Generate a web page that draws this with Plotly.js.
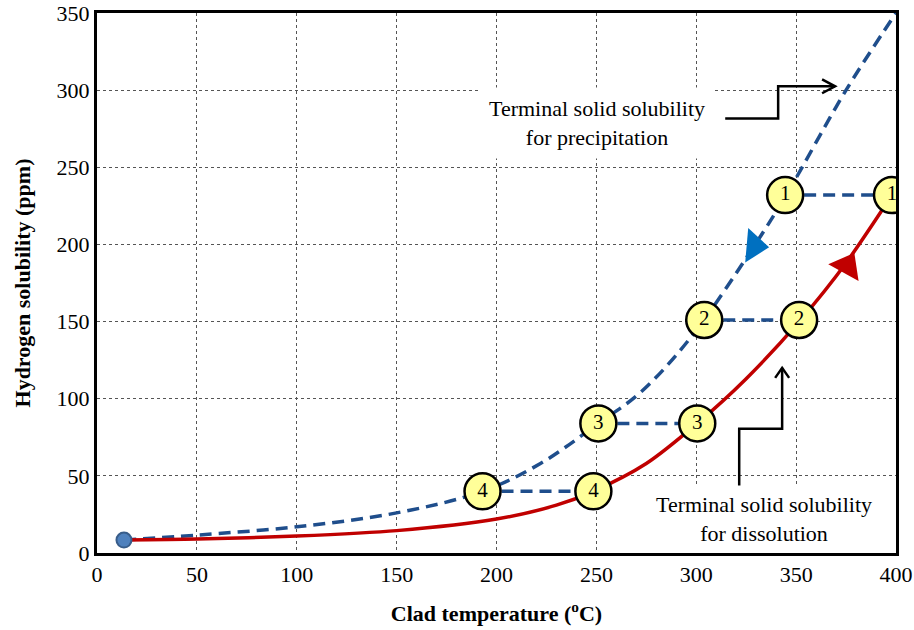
<!DOCTYPE html>
<html>
<head>
<meta charset="utf-8">
<script src="https://cdn.plot.ly/plotly-3.0.1.min.js"></script>
<style>html,body{margin:0;padding:0;background:#fff;}#chart{width:914px;height:630px;}</style>
</head>
<body>
<div id="chart"></div>
<script>
// Terminal solid solubility for precipitation (blue dashed)
const precipX = [13.5, 50, 100, 150, 193, 222, 251, 272, 296.5, 329, 345, 375, 400];
const precipY = [8.4, 11.6, 17, 26, 40, 58, 84, 104, 138.5, 199, 232, 300, 350];
// Terminal solid solubility for dissolution (red solid)
const dissolX = [13.5, 50, 100, 150, 200, 230, 248.5, 275, 300.5, 325, 351.5, 375, 398];
const dissolY = [8.4, 9, 11, 14.5, 22, 31, 40, 58, 84, 113, 150, 188, 232];
// numbered state points
const stateLabels = ["1", "2", "3", "4"];
const stateY = [232, 151, 84, 40];
const precipStateX = [344.5, 304, 251, 193];
const dissolStateX = [398, 351.5, 300.5, 248.5];
// start point
const startX = [13.5];
const startY = [8.4];
// direction arrows
const blueArrowX = [329], blueArrowY = [199];
const redArrowX = [375.5], redArrowY = [186];

const serif = "Liberation Serif";
const blue = "#1F4E8C";
const red = "#C00000";

const traces = [];
traces.push({x: precipX, y: precipY, mode: "lines", line: {color: blue, width: 3.5, dash: "12px,7px", shape: "spline", smoothing: 1}, hoverinfo: "skip"});
traces.push({x: dissolX, y: dissolY, mode: "lines", line: {color: red, width: 3.5, shape: "spline", smoothing: 0.8}, hoverinfo: "skip"});
// horizontal connectors
for (let i = 0; i < stateLabels.length; i++) {
  traces.push({x: [precipStateX[i], dissolStateX[i]], y: [stateY[i], stateY[i]], mode: "lines",
    line: {color: blue, width: 3.5, dash: "12px,7px"}, hoverinfo: "skip"});
}
traces.push({x: blueArrowX, y: blueArrowY, mode: "markers", marker: {symbol: "triangle-right", size: 30, color: "#0070C0", angle: 5, line: {width: 0}}, hoverinfo: "skip"});
traces.push({x: redArrowX, y: redArrowY, mode: "markers", marker: {symbol: "triangle-up", size: 30, color: red, angle: 29, line: {width: 0}}, hoverinfo: "skip"});
traces.push({x: startX, y: startY, mode: "markers", marker: {size: 15, color: "#4F81BD", line: {color: "#385D8A", width: 2}}, hoverinfo: "skip"});
traces.push({x: precipStateX.concat(dissolStateX), y: stateY.concat(stateY), text: stateLabels.concat(stateLabels),
  mode: "markers+text", textposition: "middle center", textfont: {family: serif, size: 21, color: "#000"},
  marker: {size: 36, color: "#FFFF99", line: {color: "#000", width: 2.5}}, hoverinfo: "skip"});

const layout = {
  width: 914, height: 630,
  margin: {l: 97, r: 18, t: 13, b: 77},
  paper_bgcolor: "#fff", plot_bgcolor: "#fff",
  showlegend: false,
  font: {family: serif, color: "#000"},
  xaxis: {range: [0, 400], tickvals: [0, 50, 100, 150, 200, 250, 300, 350, 400],
    showgrid: true, gridcolor: "#555", griddash: "dot", gridwidth: 1,
    showline: true, linecolor: "#000", linewidth: 3, mirror: true, zeroline: false,
    ticks: "", ticklen: 0, tickfont: {family: serif, size: 22}, automargin: false, ticklabeloverflow: "allow",
    title: {text: "<b>Clad temperature (<sup>o</sup>C)</b>", font: {family: serif, size: 22}, standoff: 20}},
  yaxis: {range: [0, 350], tickvals: [0, 50, 100, 150, 200, 250, 300, 350],
    showgrid: true, gridcolor: "#555", griddash: "dot", gridwidth: 1,
    showline: true, linecolor: "#000", linewidth: 3, mirror: true, zeroline: false,
    ticks: "", ticklen: 0, tickfont: {family: serif, size: 22}, automargin: false, ticklabeloverflow: "allow",
    title: {text: "<b>Hydrogen solubility (ppm)</b>", font: {family: serif, size: 22}, standoff: 20}},
  annotations: [
    {x: 250.5, y: 279, xref: "x", yref: "y", text: "Terminal solid solubility<br>for precipitation", showarrow: false,
      font: {family: serif, size: 22}, bgcolor: "#fff", borderpad: 8},
    {x: 334, y: 22, xref: "x", yref: "y", text: "Terminal solid solubility<br>for dissolution", showarrow: false,
      font: {family: serif, size: 22}, bgcolor: "#fff", borderpad: 6}
  ],
  shapes: [
    {type: "path", xref: "x", yref: "y", path: "M 314.5 281.6 L 341 281.6 L 341 302.5 L 369.5 302.5", line: {color: "#000", width: 2.5}},
    {type: "path", xref: "x", yref: "y", path: "M 363 307 L 369.5 302.5 L 363 298", line: {color: "#000", width: 2.5}},
    {type: "path", xref: "x", yref: "y", path: "M 321.5 39.5 L 321.5 80.6 L 343 80.6 L 343 120", line: {color: "#000", width: 2.5}},
    {type: "path", xref: "x", yref: "y", path: "M 339.5 113.5 L 343 120 L 346.5 113.5", line: {color: "#000", width: 2.5}}
  ]
};

Plotly.newPlot("chart", traces, layout, {staticPlot: true});
</script>
</body>
</html>
